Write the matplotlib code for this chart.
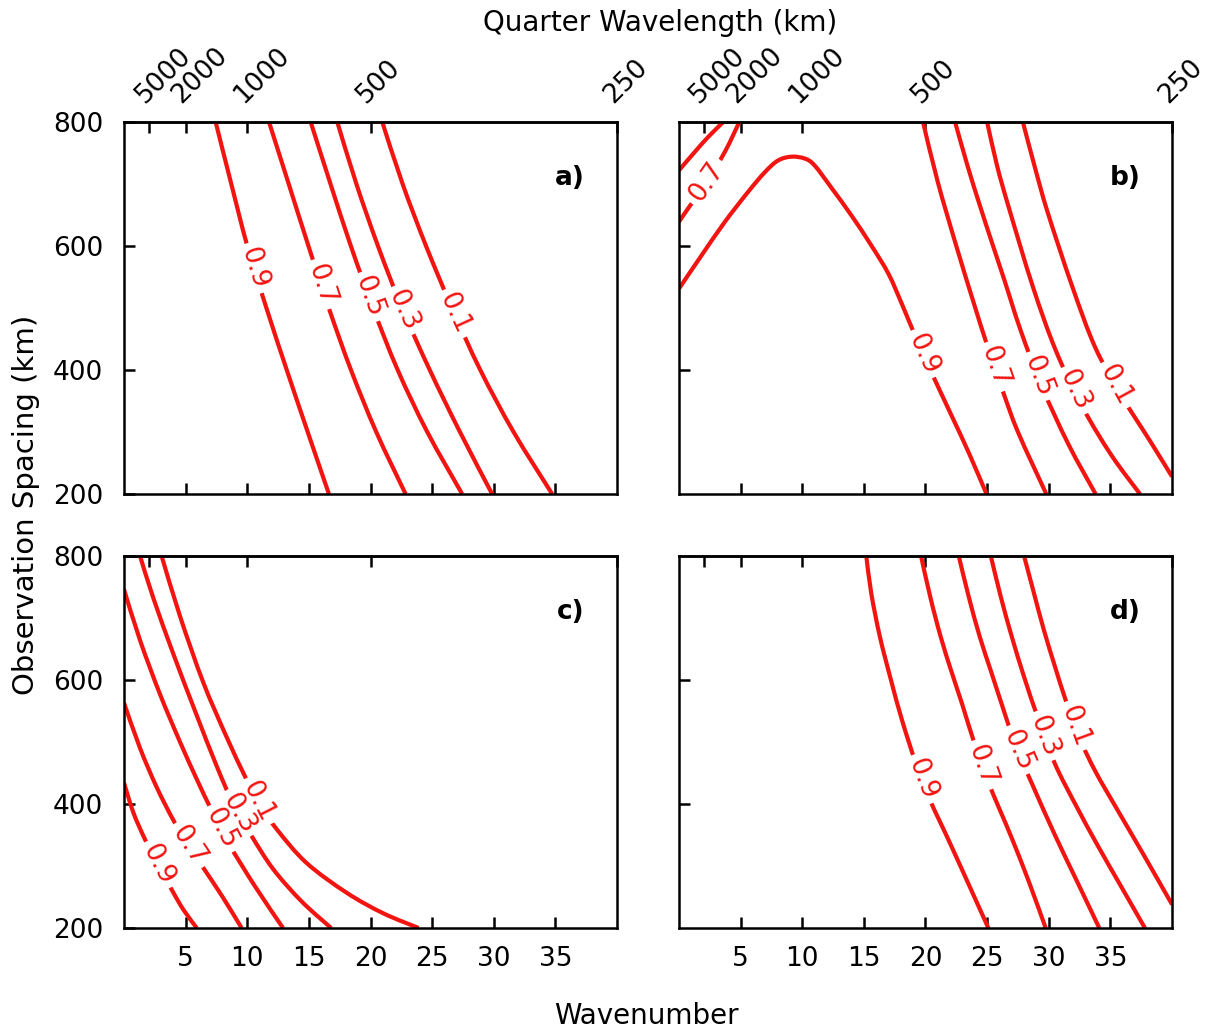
import numpy as np
import matplotlib.pyplot as plt
from matplotlib.path import Path
from matplotlib.patches import PathPatch, Rectangle
from matplotlib.transforms import IdentityTransform

plt.rcParams['font.family'] = ['DejaVu Sans']

RED = '#f21410'
DPI = 100

wavenumber_ticks = [5, 10, 15, 20, 25, 30, 35]
spacing_ticks = [200, 400, 600, 800]
quarter_wavelength = [5000, 2000, 1000, 500, 250]  # km, top axis
levels = ['0.9', '0.7', '0.5', '0.3', '0.1']

# ---- panel a ----
a09_x = [7.43, 8.7, 10.0, 11.55, 13.2, 14.9, 16.62]
a09_y = [800, 700, 600, 500, 400, 300, 200]
a07_x = [11.76, 13.36, 14.96, 16.61, 18.41, 20.46, 22.84]
a07_y = [800, 700, 600, 500, 400, 300, 200]
a05_x = [15.14, 16.75, 18.4, 20.2, 22.2, 24.6, 27.43]
a05_y = [800, 700, 600, 500, 400, 300, 200]
a03_x = [17.3, 18.85, 20.6, 22.55, 24.8, 27.25, 29.86]
a03_y = [800, 700, 600, 500, 400, 300, 200]
a01_x = [20.95, 22.6, 24.5, 26.6, 28.9, 31.6, 34.73]
a01_y = [800, 700, 600, 500, 400, 300, 200]

# ---- panel b ----
b09_x = [0, 1.84, 3.73, 5.6, 6.97, 8.05, 9.14, 10.2, 11.0, 12.4, 14.0, 15.6,
         17.0, 18.05, 18.7, 19.65, 20.6, 22.1, 23.5, 24.95]
b09_y = [531, 585, 639, 687, 719, 738, 744, 741, 730, 693, 649, 601,
         555, 508, 477, 433, 391, 327, 267, 200]
b07_x = [19.8, 21.0, 22.5, 23.9, 25.0, 26.2, 27.5, 29.8]
b07_y = [800, 703, 600, 509, 440, 370, 300, 200]
b05_x = [22.4, 23.4, 24.4, 25.4, 26.4, 27.7, 29.4, 31.6, 33.8]
b05_y = [800, 730, 666, 605, 545, 465, 375, 280, 200]
b03_x = [25.0, 25.8, 26.7, 28.7, 30.6, 32.8, 35.1, 37.4]
b03_y = [800, 730, 666, 535, 430, 338, 262, 200]
b01_x = [27.9, 28.9, 29.9, 31.9, 33.8, 36.0, 38.2, 40.0]
b01_y = [800, 725, 655, 535, 435, 355, 286, 228]
# small-wavenumber pair in the upper left corner
b07_left_x = [0, 0.9, 2.24, 3.73, 4.9]
b07_left_y = [639, 665, 703, 752, 800]
b05_left_x = [0, 1.3, 2.38, 3.6]
b05_left_y = [722, 752, 776, 800]

# ---- panel c ----
c09_x = [0, 0.76, 1.7, 2.75, 3.86, 4.8, 5.9]
c09_y = [434, 386, 343, 302, 262, 230, 200]
c07_x = [0, 1.3, 2.65, 4.0, 5.2, 6.5, 8.0, 9.54]
c07_y = [563, 490, 427, 374, 334, 295, 250, 200]
c05_x = [0, 1.3, 2.9, 4.5, 5.9, 7.1, 8.5, 10.6, 12.9]
c05_y = [746, 664, 578, 502, 440, 390, 336, 268, 200]
c03_x = [1.3, 2.38, 4.0, 5.8, 7.5, 8.9, 10.3, 12.1, 14.4, 16.8]
c03_y = [800, 732, 642, 548, 462, 398, 350, 295, 243, 200]
c01_x = [3.05, 4.54, 6.43, 8.3, 9.8, 10.9, 12.4, 14.8, 18.05, 21.0, 23.9]
c01_y = [800, 703, 596, 509, 445, 402, 359, 305, 257, 224, 200]

# ---- panel d ----
d09_x = [15.2, 15.6, 16.3, 17.2, 18.1, 19.2, 20.4, 21.8, 23.4, 25.1]
d09_y = [800, 740, 670, 600, 535, 467, 405, 345, 275, 200]
d07_x = [19.64, 20.4, 21.23, 22.1, 22.96, 24.0, 25.0, 26.0, 27.0, 28.4, 29.75]
d07_y = [800, 733, 670, 614, 562, 496, 440, 392, 345, 274, 200]
d05_x = [22.7, 23.5, 24.4, 25.3, 26.2, 27.3, 28.7, 30.5, 32.3, 34.1]
d05_y = [800, 735, 670, 615, 560, 495, 430, 350, 275, 200]
d03_x = [25.3, 26.1, 27.0, 28.0, 29.1, 30.5, 32.2, 34.0, 35.9, 37.8]
d03_y = [800, 735, 670, 605, 540, 465, 398, 332, 266, 200]
d01_x = [28.0, 28.8, 29.6, 30.5, 31.4, 32.5, 33.8, 35.5, 37.7, 40.0]
d01_y = [800, 740, 681, 622, 566, 506, 452, 393, 318, 238]


def smooth_path(xs, ys):
    # Catmull-Rom through the points, written out as cubic Bezier pieces
    p = np.column_stack([xs, ys]).astype(float)
    ext = np.vstack([p[0], p, p[-1]])
    verts = [p[0]]
    codes = [Path.MOVETO]
    for i in range(len(p) - 1):
        p0, p1, p2, p3 = ext[i], ext[i + 1], ext[i + 2], ext[i + 3]
        verts += [p1 + (p2 - p0) / 6.0, p2 - (p3 - p1) / 6.0, p2]
        codes += [Path.CURVE4] * 3
    return Path(verts, codes)


def draw_curve(ax, xs, ys, text=None, at_y=None):
    ax.add_patch(PathPatch(smooth_path(xs, ys), fill=False, edgecolor=RED,
                           lw=3.0, capstyle='butt', zorder=2))
    if text is None:
        return
    xs = np.asarray(xs, float)
    ys = np.asarray(ys, float)
    for i in range(len(xs) - 1):
        lo, hi = sorted((ys[i], ys[i + 1]))
        if lo <= at_y <= hi:
            t = (at_y - ys[i]) / (ys[i + 1] - ys[i])
            x0 = xs[i] + t * (xs[i + 1] - xs[i])
            p0, p1 = ax.transData.transform([(xs[i], ys[i]), (xs[i + 1], ys[i + 1])])
            ang = np.degrees(np.arctan2(p1[1] - p0[1], p1[0] - p0[0]))
            break
    # white gap in the line under the label (pixel units)
    cx, cy = ax.transData.transform((x0, at_y))
    w, h = 52, 22
    ax.add_patch(Rectangle((cx - w / 2, cy - h / 2), w, h, angle=ang,
                           rotation_point='center', transform=IdentityTransform(),
                           fc='white', ec='none', zorder=2.5))
    ax.text(x0, at_y, text, rotation=ang, rotation_mode='anchor',
            ha='center', va='center', color=RED, fontsize=19, zorder=3)


fig = plt.figure(figsize=(12.22, 10.31), dpi=DPI)
W, H = 0.4035, 0.3608
ax_a = fig.add_axes([0.1015, 0.5209, W, H])
ax_b = fig.add_axes([0.5556, 0.5209, W, H])
ax_c = fig.add_axes([0.1015, 0.0999, W, H])
ax_d = fig.add_axes([0.5556, 0.0999, W, H])

top_pos = [10000.0 / q for q in quarter_wavelength]

for ax, letter in [(ax_a, 'a)'), (ax_b, 'b)'), (ax_c, 'c)'), (ax_d, 'd)')]:
    ax.set_xlim(0, 40)
    ax.set_ylim(200, 800)
    for s in ax.spines.values():
        s.set_linewidth(1.8)
    ax.set_xticks(wavenumber_ticks)
    left_col = ax in (ax_a, ax_c)
    ax.set_yticks(spacing_ticks if left_col else [400, 600])
    ax.tick_params(direction='in', length=8, width=1.8, labelsize=19)
    ax.tick_params(axis='y', pad=15, labelleft=left_col)
    ax.tick_params(axis='x', pad=13, labelbottom=ax in (ax_c, ax_d))

    sec = ax.secondary_xaxis('top')
    sec.spines['top'].set_linewidth(1.8)
    if ax in (ax_a, ax_b):
        sec.set_xticks(top_pos, labels=[str(q) for q in quarter_wavelength],
                       rotation=45, ha='left', rotation_mode='anchor')
    else:
        sec.set_xticks(top_pos, labels=[''] * len(top_pos))
    sec.tick_params(direction='in', length=8, width=1.8, labelsize=19, pad=10)

    ax.text(0.905, 0.849, letter, transform=ax.transAxes, ha='center',
            va='center', fontsize=19, fontweight='bold')

# panel a
for (xs, ys), lev, ly in zip([(a09_x, a09_y), (a07_x, a07_y), (a05_x, a05_y),
                              (a03_x, a03_y), (a01_x, a01_y)],
                             levels, [564, 538, 518, 496, 491]):
    draw_curve(ax_a, xs, ys, lev, ly)

# panel b
for (xs, ys), lev, ly in zip([(b09_x, b09_y), (b07_x, b07_y), (b05_x, b05_y),
                              (b03_x, b03_y), (b01_x, b01_y)],
                             levels, [426, 405, 390, 367, 376]):
    draw_curve(ax_b, xs, ys, lev, ly)
draw_curve(ax_b, b07_left_x, b07_left_y, '0.7', 703)
draw_curve(ax_b, b05_left_x, b05_left_y)

# panel c
for (xs, ys), lev, ly in zip([(c09_x, c09_y), (c07_x, c07_y), (c05_x, c05_y),
                              (c03_x, c03_y), (c01_x, c01_y)],
                             levels, [302, 333, 360, 385, 404]):
    draw_curve(ax_c, xs, ys, lev, ly)

# panel d
for (xs, ys), lev, ly in zip([(d09_x, d09_y), (d07_x, d07_y), (d05_x, d05_y),
                              (d03_x, d03_y), (d01_x, d01_y)],
                             levels, [440, 463, 487, 510, 526]):
    draw_curve(ax_d, xs, ys, lev, ly)

fig.text(0.54, 0.978, 'Quarter Wavelength (km)', ha='center', va='center', fontsize=20)
fig.text(0.021, 0.51, 'Observation Spacing (km)', ha='center', va='center',
         rotation=90, fontsize=21)
fig.text(0.529, 0.015, 'Wavenumber', ha='center', va='center', fontsize=20)

fig.savefig('out.png', dpi=DPI, facecolor='white')
